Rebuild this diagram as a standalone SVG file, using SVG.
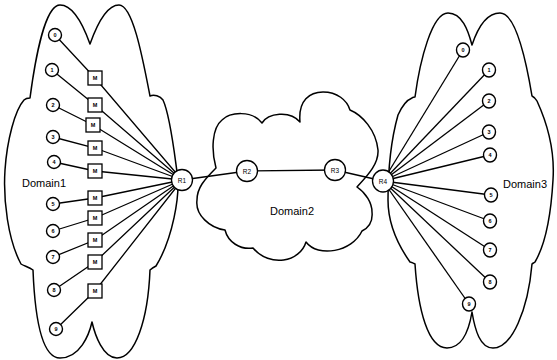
<svg xmlns="http://www.w3.org/2000/svg" width="557" height="360" viewBox="0 0 557 360">
<style>
.cloud{fill:none;stroke:#000;stroke-width:1.5;stroke-linejoin:round}
.ln{stroke:#000;stroke-width:1.3;fill:none}
.n{fill:#fff;stroke:#000;stroke-width:1.4}
.r{fill:#fff;stroke:#000;stroke-width:1.3}
.m{fill:#fff;stroke:#000;stroke-width:1.3}
.t{font-family:"Liberation Sans",Arial,sans-serif;font-size:5.5px;font-weight:bold;text-anchor:middle;fill:#000}
.tr{font-family:"Liberation Sans",Arial,sans-serif;font-size:6.5px;text-anchor:middle;fill:#000}
.d{font-family:"Liberation Sans",Arial,sans-serif;font-size:11px;fill:#000}
</style>
<rect width="557" height="360" fill="#fff"/>
<g id="domain1">
<path class="cloud" d="M30,98 C35,60 45,5 60,5 C75,5 85,30 90,44 C95,30 105,5 119,5 C133,5 143,60 150,96 C154,94 160,96 163,100 C170,115 174,150 177,172 C181,195 172,240 156,266 C154,267 152,268 150,270 C148,320 135,358 117,358 C103,358 95,335 92,322 C89,335 80,358 60,358 C42,358 35,320 33,270 C29,267 24,266 21,264 C8,240 3,200 5,170 C7,140 15,110 24,100 C26,98 28,98 30,98 Z"/>
<text class="d" x="22" y="187">Domain1</text>
</g>
<g id="domain2">
<path class="cloud" d="M216,168 C211,150 212,128 222,120 C230,112 252,110 262,123 C268,113 290,110 300,122 C298,100 310,92 323,92 C337,92 347,100 350,110 C362,115 376,130 378,150 C379,165 365,178 357,187 C366,193 372,203 372,212 C373,222 368,228 362,231 C352,252 318,258 306,242 C300,262 270,268 253,248 C240,250 228,242 225,230 C210,228 195,215 197,200 C197,188 204,180 216,168 Z"/>
<text class="d" x="270" y="215">Domain2</text>
</g>
<g id="domain3">
<path class="cloud" d="M415,97 C420,60 432,13 448,13 C462,13 468,30 472,45 C477,30 485,13 500,13 C516,13 526,60 532,96 C534,97 536,99 537,101 C548,125 555,150 553,180 C551,215 545,245 535,262 C534,263 533,263 532,264 C528,310 512,348 493,348 C480,348 475,330 472,312 C469,330 462,348 447,348 C428,348 418,310 415,264 C413,263 411,262 410,262 C398,245 388,225 388,200 C388,170 391,140 398,115 C402,106 407,100 412,98 C413,97 414,97 415,97 Z"/>
<text class="d" x="503" y="188">Domain3</text>
</g>
<g id="connectors">
<polyline class="ln" points="55,35 95,78 182,180"/>
<polyline class="ln" points="52,70 95,105 182,180"/>
<polyline class="ln" points="53,105 93,125 182,180"/>
<polyline class="ln" points="53,137 95,148 182,180"/>
<polyline class="ln" points="54,162 95,171 182,180"/>
<polyline class="ln" points="53,204 95,198 182,180"/>
<polyline class="ln" points="53,231 95,218 182,180"/>
<polyline class="ln" points="53,257 95,240 182,180"/>
<polyline class="ln" points="54,290 95,262 182,180"/>
<polyline class="ln" points="56,329 95,291 182,180"/>
<line class="ln" x1="182" y1="180" x2="247" y2="171"/>
<line class="ln" x1="247" y1="171" x2="335" y2="170"/>
<line class="ln" x1="335" y1="170" x2="383" y2="181"/>
<line class="ln" x1="383" y1="181" x2="463" y2="50"/>
<line class="ln" x1="383" y1="181" x2="489" y2="70"/>
<line class="ln" x1="383" y1="181" x2="489" y2="101"/>
<line class="ln" x1="383" y1="181" x2="489" y2="132"/>
<line class="ln" x1="383" y1="181" x2="490" y2="155"/>
<line class="ln" x1="383" y1="181" x2="491" y2="195"/>
<line class="ln" x1="383" y1="181" x2="490" y2="221"/>
<line class="ln" x1="383" y1="181" x2="490" y2="250"/>
<line class="ln" x1="383" y1="181" x2="490" y2="282"/>
<line class="ln" x1="383" y1="181" x2="469" y2="304"/>
</g>
<g id="L0"><circle class="n" cx="55" cy="35" r="6.5"/><text class="t" x="55" y="37">0</text></g>
<g id="L1"><circle class="n" cx="52" cy="70" r="6.5"/><text class="t" x="52" y="72">1</text></g>
<g id="L2"><circle class="n" cx="53" cy="105" r="6.5"/><text class="t" x="53" y="107">2</text></g>
<g id="L3"><circle class="n" cx="53" cy="137" r="6.5"/><text class="t" x="53" y="139">3</text></g>
<g id="L4"><circle class="n" cx="54" cy="162" r="6.5"/><text class="t" x="54" y="164">4</text></g>
<g id="L5"><circle class="n" cx="53" cy="204" r="6.5"/><text class="t" x="53" y="206">5</text></g>
<g id="L6"><circle class="n" cx="53" cy="231" r="6.5"/><text class="t" x="53" y="233">6</text></g>
<g id="L7"><circle class="n" cx="53" cy="257" r="6.5"/><text class="t" x="53" y="259">7</text></g>
<g id="L8"><circle class="n" cx="54" cy="290" r="6.5"/><text class="t" x="54" y="292">8</text></g>
<g id="L9"><circle class="n" cx="56" cy="329" r="6.5"/><text class="t" x="56" y="331">9</text></g>
<g id="M0"><rect class="m" x="88" y="71" width="14" height="14"/><text class="t" x="95" y="80">M</text></g>
<g id="M1"><rect class="m" x="88" y="98" width="14" height="14"/><text class="t" x="95" y="107">M</text></g>
<g id="M2"><rect class="m" x="86" y="118" width="14" height="14"/><text class="t" x="93" y="127">M</text></g>
<g id="M3"><rect class="m" x="88" y="141" width="14" height="14"/><text class="t" x="95" y="150">M</text></g>
<g id="M4"><rect class="m" x="88" y="164" width="14" height="14"/><text class="t" x="95" y="173">M</text></g>
<g id="M5"><rect class="m" x="88" y="191" width="14" height="14"/><text class="t" x="95" y="200">M</text></g>
<g id="M6"><rect class="m" x="88" y="211" width="14" height="14"/><text class="t" x="95" y="220">M</text></g>
<g id="M7"><rect class="m" x="88" y="233" width="14" height="14"/><text class="t" x="95" y="242">M</text></g>
<g id="M8"><rect class="m" x="88" y="255" width="14" height="14"/><text class="t" x="95" y="264">M</text></g>
<g id="M9"><rect class="m" x="88" y="284" width="14" height="14"/><text class="t" x="95" y="293">M</text></g>
<g id="R1"><circle class="r" cx="182" cy="180" r="10.5"/><text class="tr" x="182" y="182.5">R1</text></g>
<g id="R2"><circle class="r" cx="247" cy="171" r="10.5"/><text class="tr" x="247" y="173.5">R2</text></g>
<g id="R3"><circle class="r" cx="335" cy="170" r="10.5"/><text class="tr" x="335" y="172.5">R3</text></g>
<g id="R4"><ellipse class="r" cx="383" cy="181" rx="10.5" ry="11"/><text class="tr" x="383" y="183.5">R4</text></g>
<g id="N0"><ellipse class="n" cx="463" cy="50" rx="6.5" ry="7"/><text class="t" x="463" y="52">0</text></g>
<g id="N1"><ellipse class="n" cx="489" cy="70" rx="6.5" ry="7"/><text class="t" x="489" y="72">1</text></g>
<g id="N2"><ellipse class="n" cx="489" cy="101" rx="6.5" ry="7"/><text class="t" x="489" y="103">2</text></g>
<g id="N3"><ellipse class="n" cx="489" cy="132" rx="6.5" ry="7"/><text class="t" x="489" y="134">3</text></g>
<g id="N4"><ellipse class="n" cx="490" cy="155" rx="6.5" ry="7"/><text class="t" x="490" y="157">4</text></g>
<g id="N5"><ellipse class="n" cx="491" cy="195" rx="6.5" ry="7"/><text class="t" x="491" y="197">5</text></g>
<g id="N6"><ellipse class="n" cx="490" cy="221" rx="6.5" ry="7"/><text class="t" x="490" y="223">6</text></g>
<g id="N7"><ellipse class="n" cx="490" cy="250" rx="6.5" ry="7"/><text class="t" x="490" y="252">7</text></g>
<g id="N8"><ellipse class="n" cx="490" cy="282" rx="6.5" ry="7"/><text class="t" x="490" y="284">8</text></g>
<g id="N9"><ellipse class="n" cx="469" cy="304" rx="6.5" ry="7"/><text class="t" x="469" y="306">9</text></g>
</svg>
